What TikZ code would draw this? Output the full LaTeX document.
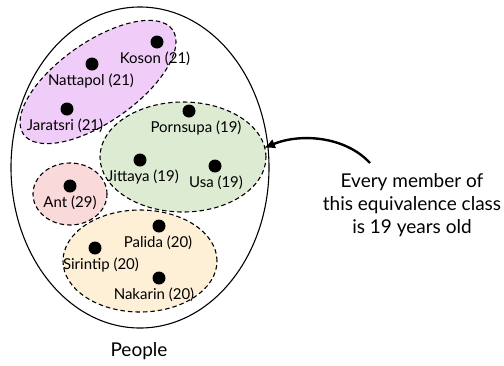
\documentclass[tikz,border=0pt]{standalone}
\usepackage{fontspec}
\setmainfont{Lato}
\usetikzlibrary{shapes.geometric,arrows.meta,positioning}

\definecolor{lilac}{RGB}{240,204,248}
\definecolor{sage}{RGB}{222,235,211}
\definecolor{blush}{RGB}{249,217,217}
\definecolor{cream}{RGB}{254,240,214}

\tikzset{
  person/.style={circle, fill=black, inner sep=0pt, minimum size=13pt},
  tag/.style={font=\fontsize{15}{17}\selectfont, inner sep=0pt},
  eqclass/.style={ellipse, draw, dashed, line width=1.1pt,
    dash pattern=on 4.5pt off 3pt, inner sep=0pt},
}

\begin{document}
\begin{tikzpicture}[x=1pt, y=-1pt]
    \useasboundingbox (0,0) rectangle (504,365);

    % the whole set and its name
    \node[ellipse, draw, line width=1.1pt, minimum width=258pt,
      minimum height=321pt, inner sep=0pt] (people) at (140,167.5) {};
    \node[font=\fontsize{19}{21}\selectfont] (people-name)
      at (139,351) {People};

    % equivalence classes (same age)
    \node[eqclass, fill=lilac, minimum width=182pt, minimum height=80pt,
      rotate=35] (age21) at (98,82) {};
    \node[eqclass, fill=sage, minimum width=166pt,
      minimum height=110pt] (age19) at (183,157) {};
    \node[eqclass, fill=blush, minimum width=74pt,
      minimum height=62pt] (age29) at (70,194) {};
    \node[eqclass, fill=cream, minimum width=154pt,
      minimum height=102pt] (age20) at (140,261) {};

    % members, with name and age below the dot
    \foreach \id/\px/\py/\txt/\dx in
      {koson/157/42/{Koson (21)}/-2,
       nattapol/92/64/{Nattapol (21)}/-1,
       jaratsri/67/109/{Jaratsri (21)}/-2,
       pornsupa/189/111/{Pornsupa (19)}/7,
       jittaya/140/160/{Jittaya (19)}/3,
       usa/215/166/{Usa (19)}/1,
       ant/70/186/{Ant (29)}/0,
       palida/159/226/{Palida (20)}/-1,
       sirintip/95/248/{Sirintip (20)}/6,
       nakarin/159/278/{Nakarin (20)}/-5} {
      \node[person] (\id) at (\px,\py) {};
      \node[tag] (\id-tag) at ([xshift=\dx pt, yshift=-16.5pt]\id) {\txt};
    }

    % callout for the 19 year olds
    \node[align=center, font=\fontsize{19}{23}\selectfont]
      (note) at (412,205)
      {Every member of\\this equivalence class\\is 19 years old};
    \coordinate (tail) at (370,163);
    \coordinate (tip) at (264,148);
    \draw[line width=2.4pt, -{Latex[length=11pt, width=10pt]}]
      (tail) .. controls (345,136) and (300,133) .. (tip);
  \end{tikzpicture}
\end{document}
